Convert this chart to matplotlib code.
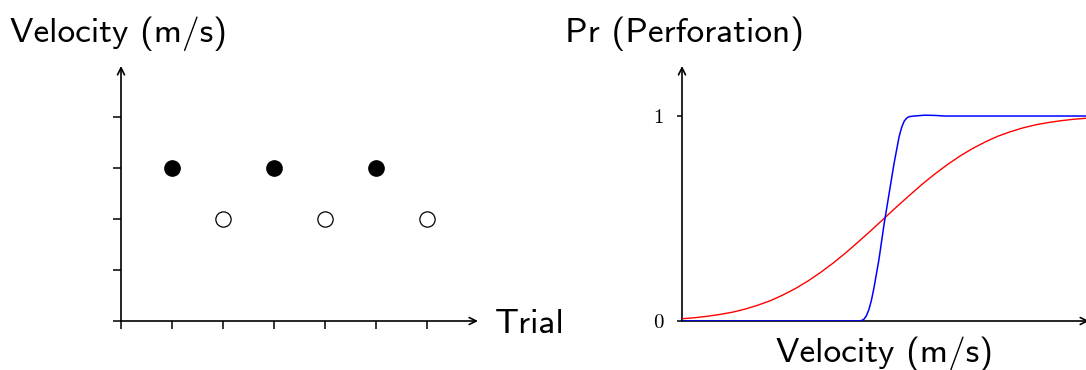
import numpy as np
import matplotlib
matplotlib.use("Agg")
import matplotlib.pyplot as plt

# left panel: velocity per trial (filled = perforation, open = no perforation)
trial_hit = [1, 3, 5]
vel_hit = [3, 3, 3]
trial_miss = [2, 4, 6]
vel_miss = [2, 2, 2]
left_xticks = [0, 1, 2, 3, 4, 5, 6]
left_yticks = [0, 1, 2, 3, 4]

# right panel: probability of perforation vs velocity
v_red = [0, 0.25, 0.5, 0.75, 1, 1.25, 1.5, 1.75, 2, 2.25, 2.5, 2.75, 3,
         3.25, 3.5, 3.75, 4, 4.25, 4.5, 4.75, 5, 5.25, 5.5, 5.75, 6,
         6.25, 6.5, 6.75, 7, 7.25, 7.5, 7.75, 8]
p_red = [0.011, 0.016, 0.023, 0.032, 0.043, 0.058, 0.077, 0.099, 0.127,
         0.159, 0.196, 0.238, 0.284, 0.334, 0.388, 0.443, 0.5, 0.557,
         0.612, 0.666, 0.716, 0.762, 0.804, 0.841, 0.873, 0.901, 0.923,
         0.942, 0.957, 0.968, 0.977, 0.984, 0.989]
v_blue = [0, 3.5, 3.55, 3.6, 3.65, 3.7, 3.75, 3.8, 3.9, 4.0, 4.1, 4.2,
          4.3, 4.35, 4.4, 4.45, 4.5, 4.6, 4.8, 5.0, 5.2, 8]
p_blue = [0, 0, 0.002, 0.008, 0.025, 0.055, 0.1, 0.16, 0.3, 0.47, 0.62,
          0.77, 0.9, 0.945, 0.975, 0.99, 0.997, 1.0, 1.004, 1.003, 1.0, 1.0]
right_yticks = [0, 1]
right_yticklabels = ["0", "1"]

W, H = 1086, 370
fig = plt.figure(figsize=(W / 100, H / 100), dpi=100)

SANS = "cmss10"
SERIF = "cmr10"
arrow = dict(arrowstyle="->,head_length=0.5,head_width=0.25", lw=1.2,
             color="black", shrinkA=0, shrinkB=0)

# ---- left
ax1 = fig.add_axes([121 / W, 1 - 321 / H, (478 - 121) / W, (321 - 66) / H])
ax1.set_xlim(0, 7)
ax1.set_ylim(0, 5)
for s in ax1.spines.values():
    s.set_visible(False)
ax1.annotate("", xy=(7, 0), xytext=(0, 0), arrowprops=arrow, annotation_clip=False)
ax1.annotate("", xy=(0, 5), xytext=(0, 0), arrowprops=arrow, annotation_clip=False)
ax1.set_xticks(left_xticks)
ax1.set_yticks(left_yticks)
ax1.set_xticklabels([])
ax1.set_yticklabels([])
ax1.tick_params(length=6, width=1.1, direction="out")
ax1.plot(trial_hit, vel_hit, "o", ms=11, color="black", clip_on=False)
ax1.plot(trial_miss, vel_miss, "o", ms=11, mfc="white", mec="black", mew=0.9,
         clip_on=False)

# ---- right
ax2 = fig.add_axes([682 / W, 1 - 321 / H, (W - 682) / W, (321 - 66) / H])
ax2.set_xlim(0, 8)
ax2.set_ylim(0, 1.244)
for s in ax2.spines.values():
    s.set_visible(False)
ax2.annotate("", xy=(8.06, 0), xytext=(0, 0), arrowprops=arrow, annotation_clip=False)
ax2.annotate("", xy=(0, 1.244), xytext=(0, 0), arrowprops=arrow, annotation_clip=False)
ax2.set_xticks([])
ax2.set_yticks(right_yticks)
ax2.set_yticklabels(right_yticklabels, family=SERIF, fontsize=15)
ax2.tick_params(axis="y", length=3.5, width=1.1, pad=10)
ax2.plot(v_red, p_red, color="#ff0000", lw=1.0, zorder=3)
ax2.plot(v_blue, p_blue, color="#0000ff", lw=1.1, zorder=4)

# ---- labels
fig.text(10 / W, 1 - 42 / H, "Velocity (m/s)", family=SANS, fontsize=25.5, va="baseline")
fig.text(565 / W, 1 - 42 / H, "Pr (Perforation)", family=SANS, fontsize=25.5, va="baseline")
fig.text(495 / W, 1 - 333 / H, "Trial", family=SANS, fontsize=25.5, va="baseline")
fig.text(884 / W, 1 - 362 / H, "Velocity (m/s)", family=SANS, fontsize=25.5,
         ha="center", va="baseline")

fig.savefig("out.png", dpi=100)
